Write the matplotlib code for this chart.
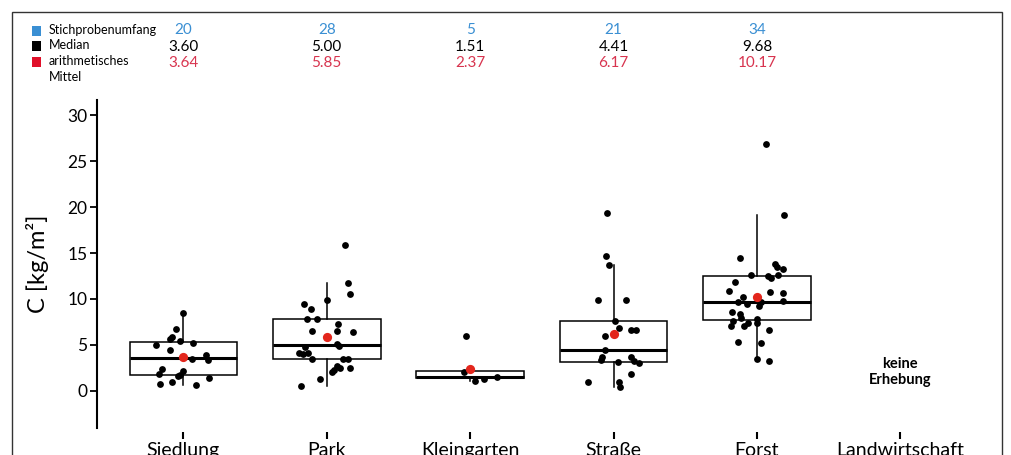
import matplotlib
matplotlib.use("Agg")
import matplotlib.pyplot as plt
import matplotlib.transforms as mtransforms
from matplotlib.patches import Rectangle

plt.rcParams['font.family'] = ['Lato', 'DejaVu Sans']

categories = ['Siedlung', 'Park', 'Kleingarten', 'Straße', 'Forst', 'Landwirtschaft']

# stats printed above the plot
n_values = ['20', '28', '5', '21', '34']
median_labels = ['3.60', '5.00', '1.51', '4.41', '9.68']
mean_values = [3.64, 5.85, 2.37, 6.17, 10.17]

# box statistics
q1 = [1.71, 3.45, 1.35, 3.09, 7.70]
medians = [3.60, 5.00, 1.51, 4.41, 9.68]
q3 = [5.34, 7.78, 2.15, 7.63, 12.49]
whis_lo = [0.62, 0.51, 1.06, 0.44, 3.24]
whis_hi = [8.50, 11.70, 2.15, 13.66, 19.14]

# single measurements (C in kg/m²) and their horizontal jitter
siedlung = [8.5, 6.7, 5.8, 5.6, 5.45, 5.16, 4.98, 4.43, 3.89, 3.42, 3.34, 2.36,
            2.18, 1.82, 1.71, 1.6, 1.42, 0.98, 0.73, 0.62]
siedlung_jit = [0.0, -0.05, -0.08, -0.09, -0.02, 0.07, -0.19, -0.09, 0.16, 0.06,
                0.17, -0.15, 0.0, -0.17, -0.02, -0.04, 0.18, -0.08, -0.16, 0.09]
park = [15.87, 11.7, 10.5, 9.88, 9.44, 8.87, 7.78, 7.78, 7.27, 6.54, 6.54, 6.43,
        5.05, 4.87, 4.73, 4.14, 4.07, 4.0, 3.49, 3.45, 3.49, 2.69, 2.5, 2.44,
        2.25, 2.07, 1.24, 0.51]
park_jit = [0.13, 0.15, 0.165, 0.0, -0.16, -0.11, -0.14, -0.07, 0.08, -0.105, 0.075,
            0.18, 0.07, 0.085, -0.15, -0.13, -0.19, -0.165, -0.10, 0.115, 0.15,
            0.07, 0.09, 0.16, 0.05, 0.04, -0.05, -0.18]
kleingarten = [5.99, 2.07, 1.53, 1.28, 1.06]
kleingarten_jit = [-0.03, -0.04, 0.19, 0.1, 0.035]
strasse = [19.4, 14.7, 13.66, 9.88, 9.88, 7.63, 6.86, 6.61, 6.61, 5.96, 4.41, 3.7,
           3.64, 3.34, 3.24, 3.09, 3.05, 1.82, 0.98, 0.98, 0.44]
strasse_jit = [-0.045, -0.05, -0.03, -0.11, 0.09, 0.01, 0.04, 0.12, 0.16, -0.06,
               -0.06, -0.08, 0.125, -0.09, 0.14, 0.03, 0.18, 0.12, -0.18, 0.04, 0.045]
forst = [26.84, 19.14, 14.49, 13.77, 13.44, 13.22, 12.6, 12.6, 12.53, 12.31, 11.81,
         10.86, 10.79, 10.61, 10.24, 9.8, 9.7, 9.7, 9.44, 9.23, 8.61, 8.32, 7.89,
         7.78, 7.63, 7.34, 7.34, 7.05, 7.0, 6.61, 5.27, 5.16, 3.49, 3.24]
forst_jit = [0.06, 0.19, -0.12, 0.125, 0.14, 0.18, 0.15, -0.04, 0.075, 0.095, -0.15,
             -0.195, 0.09, 0.185, -0.10, 0.185, -0.13, 0.03, -0.07, 0.015, -0.175,
             -0.12, -0.11, 0.0, -0.165, -0.06, 0.0, -0.18, -0.09, 0.085, -0.13, 0.03,
             0.0, 0.085]

groups = [siedlung, park, kleingarten, strasse, forst]
jitters = [siedlung_jit, park_jit, kleingarten_jit, strasse_jit, forst_jit]

blue = '#3a8fd3'
red_txt = '#d8344f'
red_pt = '#e3261c'

fig = plt.figure(figsize=(10.12, 4.55), dpi=100)
ax = fig.add_axes([97 / 1012, 27 / 455, 903 / 1012, 328 / 455])

stats = []
for i in range(len(groups)):
    stats.append({'q1': q1[i], 'med': medians[i], 'q3': q3[i],
                  'whislo': whis_lo[i], 'whishi': whis_hi[i], 'fliers': []})
ax.bxp(stats, positions=range(len(groups)), widths=0.75, patch_artist=True,
       showcaps=False, showfliers=False,
       boxprops=dict(facecolor='white', edgecolor='black', linewidth=1.1),
       whiskerprops=dict(color='black', linewidth=1.1),
       medianprops=dict(color='black', linewidth=2.2), zorder=1)

for i, (vals, jit) in enumerate(zip(groups, jitters)):
    xs = [i + j for j in jit]
    ax.scatter(xs, vals, s=24, color='black', zorder=3, linewidths=0)
ax.scatter(range(len(mean_values)), mean_values, s=44, color=red_pt, zorder=4,
           linewidths=0)

ax.text(len(categories) - 1, 2.0, 'keine\nErhebung', ha='center', va='center',
        fontsize=10.5, fontweight='bold', linespacing=1.2)

ax.set_xlim(-0.602, 5.695)
ax.set_ylim(-4.06, 31.67)
ax.set_xticks(range(len(categories)))
ax.set_xticklabels(categories)
ax.set_yticks([0, 5, 10, 15, 20, 25, 30])
ax.tick_params(axis='y', length=5, width=1.3, labelsize=12.5, pad=2)
ax.tick_params(axis='x', length=5, width=1.5, pad=2, labelsize=14)
for s in ['top', 'right']:
    ax.spines[s].set_visible(False)
ax.spines['bottom'].set_position(('outward', 3))
ax.spines['bottom'].set_visible(False)
ax.spines['left'].set_linewidth(1.5)
ax.set_ylabel('C [kg/m²]', fontsize=17)
ax.yaxis.set_label_coords(-0.053, 0.5)

# header with sample size, median and mean
trans = mtransforms.blended_transform_factory(ax.transData, fig.transFigure)
for i in range(len(n_values)):
    ax.text(i, 1 - 30 / 455, n_values[i], transform=trans, ha='center', va='center',
            fontsize=11, color=blue)
    ax.text(i, 1 - 47 / 455, median_labels[i], transform=trans, ha='center',
            va='center', fontsize=11, color='black')
    ax.text(i, 1 - 63 / 455, f'{mean_values[i]:.2f}', transform=trans, ha='center',
            va='center', fontsize=11, color=red_txt)

legend_items = [('Stichprobenumfang', blue, 31), ('Median', 'black', 46),
                ('arithmetisches\nMittel', '#e0102a', 62)]
for label, col, ypx in legend_items:
    fig.add_artist(Rectangle((32 / 1012, 1 - (ypx + 4.5) / 455), 9 / 1012, 9 / 455,
                             transform=fig.transFigure, facecolor=col,
                             edgecolor='none'))
    fig.text(49 / 1012, 1 - (ypx - 7) / 455, label, ha='left', va='top',
             fontsize=9, linespacing=1.4)

fig.add_artist(Rectangle((12 / 1012, -0.05), 990 / 1012, 1.05 - 12.5 / 455,
                         transform=fig.transFigure, facecolor='none',
                         edgecolor='#333333', linewidth=1.0))

fig.savefig('out.png', dpi=100)
